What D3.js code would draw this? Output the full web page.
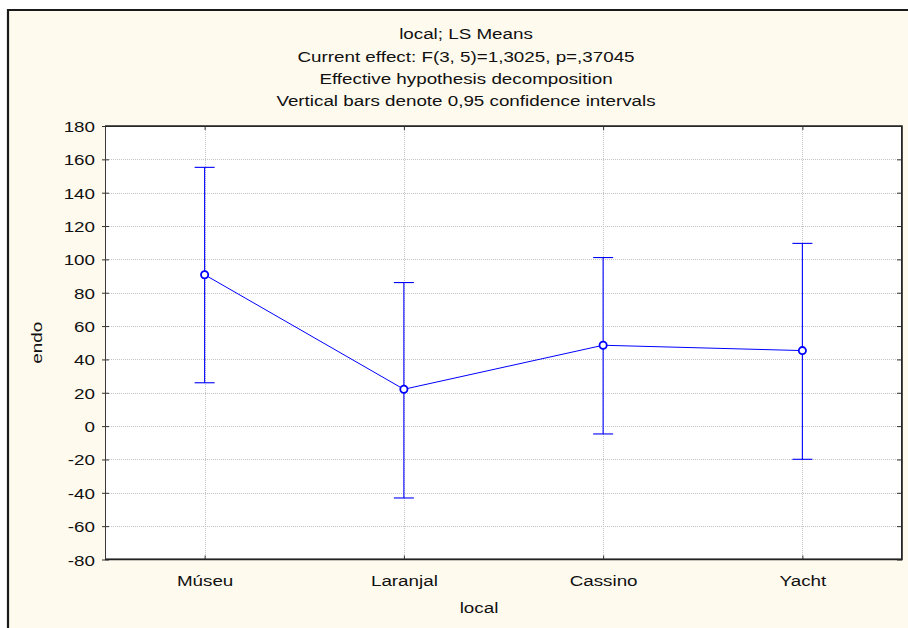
<!DOCTYPE html>
<html>
<head>
<meta charset="utf-8">
<script src="https://cdn.jsdelivr.net/npm/d3@7"></script>
<style>
  html, body { margin: 0; padding: 0; background: #ffffff; }
  svg { display: block; }
  text { font-family: "Liberation Sans", Arial, sans-serif; fill: #111; }
</style>
</head>
<body>
<svg id="chart" width="908" height="628"></svg>
<script>
// LS means of "endo" by site, with 0.95 confidence limits
const categories = ["Múseu", "Laranjal", "Cassino", "Yacht"];
const means      = [90.8, 22.1, 48.5, 45.3];
const lowerCI    = [26.0, -43.1, -4.7, -19.9];
const upperCI    = [155.2, 86.1, 101.1, 109.6];
const yTicks     = [180, 160, 140, 120, 100, 80, 60, 40, 20, 0, -20, -40, -60, -80];
const titleLines = [
  "local; LS Means",
  "Current effect: F(3, 5)=1,3025, p=,37045",
  "Effective hypothesis decomposition",
  "Vertical bars denote 0,95 confidence intervals"
];
const xTitle = "local";
const yTitle = "endo";

const W = 908, H = 628;
const plot = { left: 105, right: 902, top: 126, bottom: 559.5 };
const SX = 1.23;         // horizontal stretch of the lettering
const FS = 15.3;         // font size
const blue = "#0000ff";

const svg = d3.select("#chart");

// window panel
svg.append("rect").attr("x", 8).attr("y", 9).attr("width", W).attr("height", H)
  .attr("fill", "#fffaee");
svg.append("path").attr("d", `M8,${H} V10 H${W}`)
  .attr("fill", "none").attr("stroke", "#1a1a1a").attr("stroke-width", 2.2);

const x = d3.scalePoint().domain(categories).range([plot.left, plot.right]).padding(0.5);
const y = d3.scaleLinear().domain([-80, 180]).range([plot.bottom, plot.top]);

function label(parent, px, py, str, anchor, rotate) {
  const t = parent.append("text")
    .attr("transform", `translate(${px},${py})` + (rotate ? ` rotate(${rotate})` : "") + ` scale(${SX},1)`)
    .attr("text-anchor", anchor || "middle")
    .attr("font-size", FS)
    .text(str);
  return t;
}

// plot background
svg.append("rect")
  .attr("x", plot.left).attr("y", plot.top)
  .attr("width", plot.right - plot.left).attr("height", plot.bottom - plot.top)
  .attr("fill", "#ffffff");

// grid
const grid = svg.append("g").attr("stroke", "#c4c4c4").attr("stroke-width", 1)
  .attr("stroke-dasharray", "1,1");
grid.selectAll("line.h").data(yTicks.filter(v => v > -80 && v < 180)).join("line")
  .attr("x1", plot.left).attr("x2", plot.right)
  .attr("y1", d => Math.round(y(d)) + 0.5).attr("y2", d => Math.round(y(d)) + 0.5);
grid.selectAll("line.v").data(categories).join("line")
  .attr("x1", d => Math.round(x(d)) + 0.5).attr("x2", d => Math.round(x(d)) + 0.5)
  .attr("y1", plot.top).attr("y2", plot.bottom);

// axes
const yAxis = d3.axisLeft(y).tickValues(yTicks).tickSizeInner(-4).tickSizeOuter(0).tickPadding(10);
const gy = svg.append("g").attr("transform", `translate(${plot.left},0)`).call(yAxis);
gy.select(".domain").remove();
gy.selectAll(".tick line").attr("x1", -3).attr("x2", 4).attr("stroke", "#333");
gy.selectAll(".tick text").remove();
gy.selectAll(".tick").each(function(d) {
  label(d3.select(this), -10, 0, String(d), "end").attr("dy", "0.36em");
});

const yAxisR = d3.axisLeft(y).tickValues(yTicks).tickSize(5).tickFormat("");
const gyr = svg.append("g").attr("transform", `translate(${plot.right},0)`).call(yAxisR);
gyr.select(".domain").remove();
gyr.selectAll(".tick line").attr("stroke", "#333");

const xAxis = d3.axisBottom(x).tickSize(-4).tickFormat("");
const gx = svg.append("g").attr("transform", `translate(0,${plot.bottom})`).call(xAxis);
gx.select(".domain").remove();
gx.selectAll(".tick line").attr("stroke", "#333");
gx.selectAll(".tick").each(function(d) {
  label(d3.select(this), 0, 26.5, d, "middle");
});

const xAxisT = d3.axisTop(x).tickSize(-4).tickFormat("");
const gxt = svg.append("g").attr("transform", `translate(0,${plot.top})`).call(xAxisT);
gxt.select(".domain").remove();
gxt.selectAll(".tick line").attr("stroke", "#333");

// plot frame
svg.append("rect")
  .attr("x", plot.left + 0.5).attr("y", plot.top + 0.5)
  .attr("width", plot.right - plot.left - 1).attr("height", plot.bottom - plot.top - 1)
  .attr("fill", "none").attr("stroke", "#3a3a3a").attr("stroke-width", 1);
svg.append("path")
  .attr("d", `M${plot.left},${plot.top} H${plot.right} V${plot.bottom} H${plot.left}`)
  .attr("fill", "none").attr("stroke", "#222").attr("stroke-width", 1.6);

// confidence intervals
const rows = categories.map((c, i) => ({ c, m: means[i], lo: lowerCI[i], hi: upperCI[i] }));
const ci = svg.append("g").attr("stroke", blue).attr("stroke-width", 1.1);
ci.selectAll("line.bar").data(rows).join("line")
  .attr("x1", d => x(d.c)).attr("x2", d => x(d.c))
  .attr("y1", d => y(d.hi)).attr("y2", d => y(d.lo));
ci.selectAll("line.capHi").data(rows).join("line")
  .attr("x1", d => x(d.c) - 10).attr("x2", d => x(d.c) + 10)
  .attr("y1", d => y(d.hi)).attr("y2", d => y(d.hi));
ci.selectAll("line.capLo").data(rows).join("line")
  .attr("x1", d => x(d.c) - 10).attr("x2", d => x(d.c) + 10)
  .attr("y1", d => y(d.lo)).attr("y2", d => y(d.lo));

// mean line and markers
svg.append("path").datum(rows)
  .attr("d", d3.line().x(d => x(d.c)).y(d => y(d.m)))
  .attr("fill", "none").attr("stroke", blue).attr("stroke-width", 1);
svg.selectAll("circle.mean").data(rows).join("circle")
  .attr("cx", d => x(d.c)).attr("cy", d => y(d.m)).attr("r", 3.6)
  .attr("fill", "#ffffff").attr("stroke", blue).attr("stroke-width", 1.8);

// titles
const titleBase = [39, 61.5, 84, 106];
titleLines.forEach((s, i) => label(svg, 466, titleBase[i], s, "middle"));
label(svg, 479, 613, xTitle, "middle");
label(svg, 42, (plot.top + plot.bottom) / 2, yTitle, "middle", -90);
</script>
</body>
</html>
